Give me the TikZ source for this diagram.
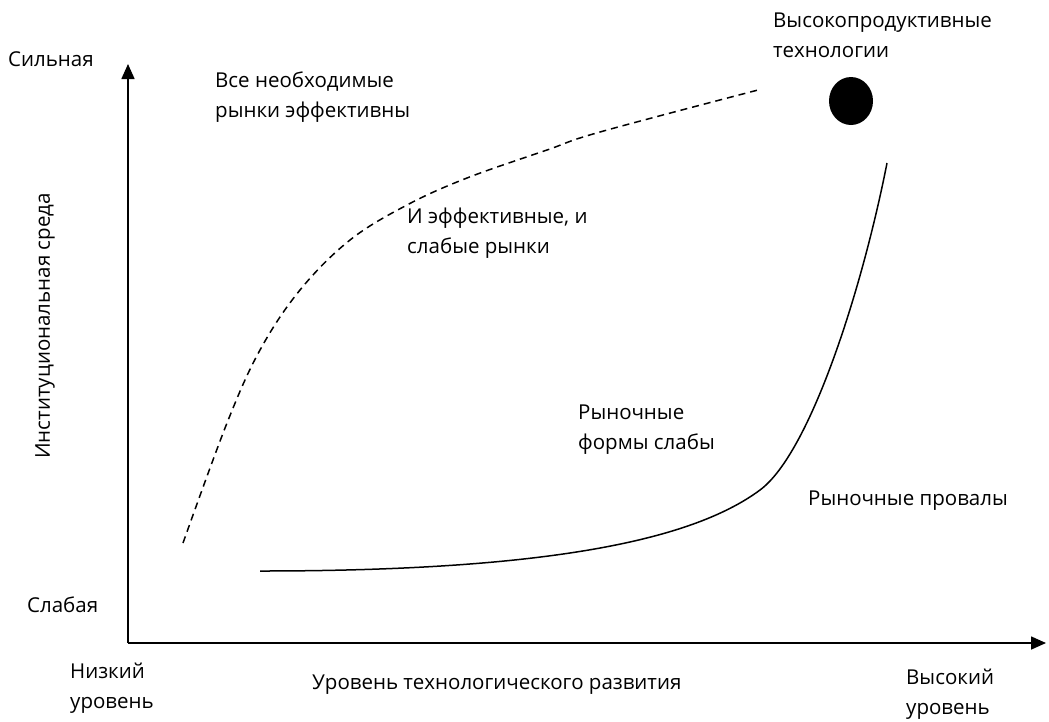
\documentclass[tikz,border=0pt]{standalone}
\usepackage{fontspec}
\setmainfont{Open Sans}
\usetikzlibrary{arrows.meta,shapes.geometric,positioning}

\begin{document}
\begin{tikzpicture}
[x=1pt,y=-1pt,
every node/.style={inner sep=0pt,font=\fontsize{20.5}{30}\selectfont},
lbl/.style={anchor=west,align=left},
axis/.style={line width=1.6pt,-{Triangle[length=15pt,width=13pt]}},
curve/.style={line width=1.5pt}]
\useasboundingbox (0,0) rectangle (1049,721);
\coordinate (O) at (128,643);
\coordinate (Ytop) at (128,64);
\coordinate (Xend) at (1046,643);
\draw [axis] (O) -- (Ytop);
\draw [axis] (O) -- (Xend);
% axis texts
\node (strong) [lbl] at (8,59) {Сильная};
\node (weak) [lbl] at (27,605) {Слабая};
\node (low) [lbl] at (70,688) {Низкий\\уровень};
\node (high) [lbl] at (906,694) {Высокий\\уровень};
\node (xlab) [lbl] at (312,685) {Уровень технологического развития};
\node (ylab) [rotate=90] at (45,326) {Институциональная среда};
% region texts
\node (allmk) [lbl] at (215,97) {Все необходимые\\рынки эффективны};
\node (hitech) [lbl] at (773,35) {Высокопродуктивные\\технологии};
\node (both) [lbl] at (407,233) {И эффективные, и\\слабые рынки};
\node (forms) [lbl] at (578,430) {Рыночные\\формы слабы};
\node (fail) [lbl] at (808,501) {Рыночные провалы};
\node (dot) [ellipse,fill=black,minimum width=44pt,minimum height=48pt] at (851,101) {};
% boundary curves
\coordinate (d0) at (183,543);
\coordinate (d1) at (758,90);
\coordinate (s0) at (260,571);
\coordinate (s1) at (887,163);
\draw [curve,dashed,dash pattern=on 7pt off 5pt] plot [smooth,tension=0.6] coordinates
 {(d0) (227,423) (260,350) (300,290) (350,240) (407,205) (467,178) (547,150) (600,132) (d1)};
\draw [curve] (s0) .. controls (540,571) and (690,542) .. (760,490)
 .. controls (810,453) and (862,290) .. (s1);
\end{tikzpicture}
\end{document}
